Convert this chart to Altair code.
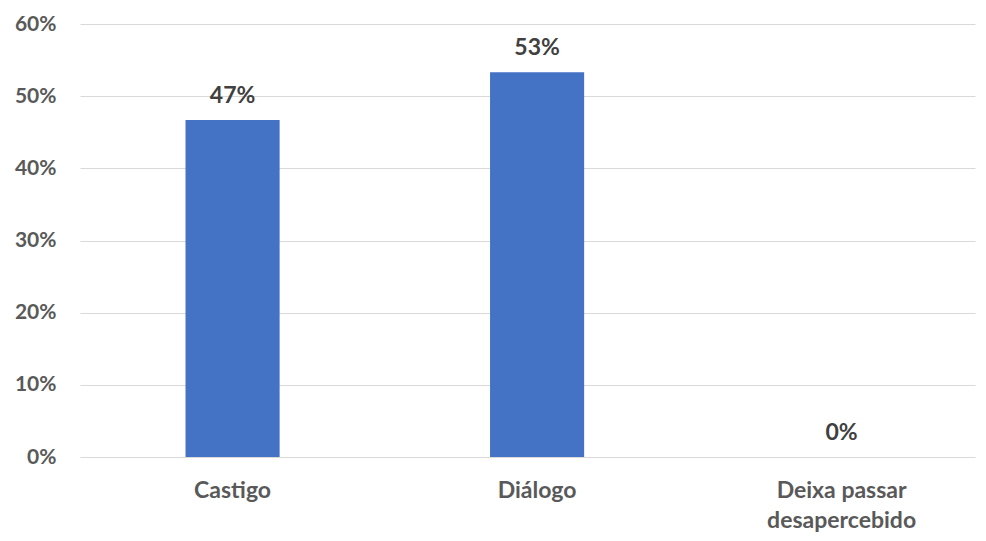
import altair as alt
import pandas as pd

categories = ["Castigo", "Diálogo", "Deixa passar desapercebido"]
values = [0.467, 0.533, 0.0]
y_ticks = [0, 0.1, 0.2, 0.3, 0.4, 0.5, 0.6]

df = pd.DataFrame({"cat": categories, "val": values})

FONT = "Lato"

x = alt.X(
    "cat:N",
    sort=categories,
    title=None,
    scale=alt.Scale(paddingInner=0.691, paddingOuter=0.315, align=0.55),
    axis=alt.Axis(
        labelAngle=0,
        labelFont=FONT,
        labelFontSize=23,
        labelFontWeight="bold",
        labelColor="#595959",
        labelPadding=22,
        labelLineHeight=30,
        labelBaseline="top",
        ticks=False,
        domain=False,
        labelExpr="datum.label == 'Deixa passar desapercebido' ? ['Deixa passar', 'desapercebido'] : datum.label",
    ),
)

y = alt.Y(
    "val:Q",
    title=None,
    scale=alt.Scale(domain=[0, 0.6], nice=False),
    axis=alt.Axis(
        values=y_ticks,
        format=".0%",
        labelFont=FONT,
        labelFontSize=21,
        labelFontWeight="bold",
        labelColor="#595959",
        labelPadding=24,
        ticks=False,
        domain=False,
        grid=True,
        gridColor="#d9d9d9",
        gridWidth=1,
    ),
)

bars = alt.Chart(df).mark_bar(color="#4472C4").encode(x=x, y=y)

labels = alt.Chart(df).mark_text(
    font=FONT,
    fontSize=23,
    fontWeight="bold",
    color="#404040",
    baseline="middle",
    dy=-24,
).encode(
    x=alt.X("cat:N", sort=categories),
    y=alt.Y("val:Q"),
    text=alt.Text("val:Q", format=".0%"),
)

chart = (
    alt.layer(bars, labels)
    .properties(
        width=895,
        height=433,
        background="white",
        autosize=alt.AutoSizeParams(type="none"),
        padding={"left": 72, "top": 16, "right": 3, "bottom": 76},
    )
    .configure_view(strokeWidth=0, stroke="transparent")
)

chart.save("out.html", embed_options={"renderer": "svg", "actions": False})
